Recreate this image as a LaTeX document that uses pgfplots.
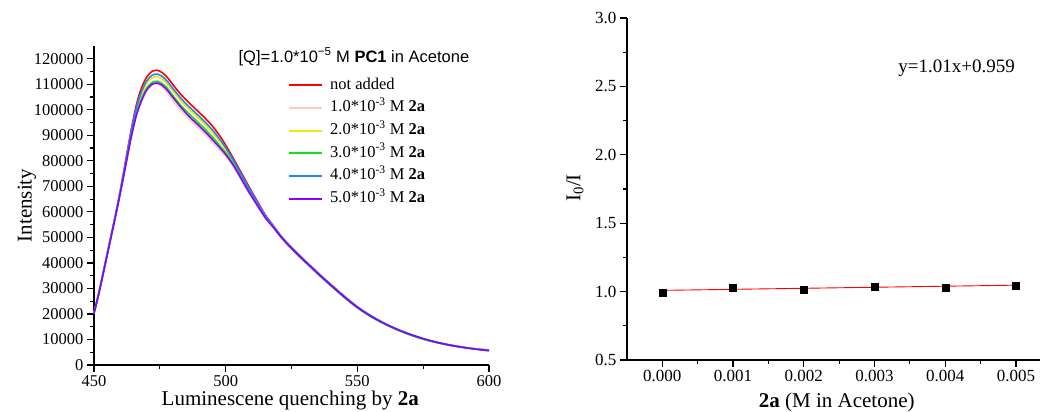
\documentclass[border=0pt]{standalone}
\usepackage{fontspec}
\setmainfont{Liberation Serif}
\newfontfamily\arial{Liberation Sans}
\usepackage{pgfplots}
\usepackage{pgfplotstable}
\pgfplotsset{compat=1.18}

\definecolor{cRed}{RGB}{255,0,0}
\definecolor{cPeach}{RGB}{252,205,185}
\definecolor{cYellow}{RGB}{245,230,0}
\definecolor{cGreen}{RGB}{20,225,20}
\definecolor{cBlue}{RGB}{20,140,255}
\definecolor{cPurple}{RGB}{140,0,255}

% wavelength, not added, 1.0, 2.0, 3.0, 4.0, 5.0 (x10^-3 M 2a)
\pgfplotstableread{
wl    r      p      y      g      b      v
450 20300 20300 20300 20300 20300 20300
452 29000 28900 29000 28900 29000 28700
455 43500 43200 43400 43300 43500 43000
458 58000 57600 57800 57700 58000 57400
460 68500 67400 68000 67600 68200 67400
462 80000 77800 79000 78280 79400 78000
464 91500 88300 90000 89000 90600 88600
466 101500 97100 99500 98060 100300 97500
468 108500 103000 106000 104200 107000 103500
470 112800 107300 110300 108500 111300 107800
472 115000 109500 112500 110700 113500 110000
474 115500 110000 113000 111200 114000 110500
476 114500 108800 112000 110200 113000 109500
478 112500 106500 110000 108200 111000 107500
480 109800 103500 107300 105500 108300 104800
483 106000 99700 103500 101700 104500 101000
486 102800 96500 100300 98500 101300 97500
489 99900 93600 97400 95600 98400 94600
492 96900 90600 94400 92600 95400 91600
495 93600 87300 91100 89300 92100 88300
498 89400 84000 87300 85700 88100 84900
500 86200 81800 84450 83200 85150 82500
503 80800 77650 79550 78650 80050 78150
506 75200 72400 74100 73300 74500 72800
509 69600 67100 68600 67900 69000 67500
512 64200 62300 63450 62900 63750 62600
515 58900 57600 58400 58000 58600 57800
518 54700 54000 54400 54100 54500 54100
521 50600 50100 50400 50100 50500 50200
524 47100 46700 46900 46600 47000 46800
527 44000 43600 43800 43500 43900 43700
530 41000 40600 40800 40500 40900 40700
533 38100 37700 37900 37600 38000 37800
536 35200 34800 35000 34700 35100 34900
540 31500 31100 31300 31000 31400 31200
545 27000 26700 26800 26500 26900 26700
550 22800 22600 22700 22400 22800 22600
555 19300 19100 19200 19000 19400 19200
560 16400 16300 16400 16200 16500 16400
565 13900 13900 13900 13800 14100 14000
570 11900 11900 11900 11800 12100 12000
575 10200 10200 10200 10100 10400 10300
580 8900 8900 8900 8800 9000 8900
585 7800 7800 7800 7700 7900 7800
590 7000 7000 7000 6900 7000 6900
595 6300 6300 6300 6200 6300 6200
600 5800 5800 5800 5600 5900 5600
}\spectra

\pgfplotsset{
  myaxis/.style={
    scale only axis,
    axis x line*=bottom, axis y line*=left,
    axis line style={line width=1.2bp, black, -},
    tick align=outside,
    major tick length=7bp, minor tick length=4bp,
    every tick/.style={line width=1.2bp, black},
    /pgf/number format/assume math mode=true,
    clip=false,
  }
}

\begin{document}
\begin{tikzpicture}
\useasboundingbox (0,0) rectangle (1041bp,412bp);

% left: emission spectra
\begin{axis}[myaxis,
  at={(94bp,47bp)}, anchor=south west,
  width=395bp, height=319bp,
  xmin=450, xmax=600, ymin=0, ymax=125000,
  xtick={450,500,550,600}, minor x tick num=1,
  ytick={0,10000,...,120000}, minor y tick num=1,
  scaled y ticks=false,
  yticklabel style={/pgf/number format/.cd, fixed, 1000 sep={}},
  tick label style={font=\fontsize{16.5bp}{19bp}\selectfont},
  xlabel={Luminescene quenching by \textbf{2a}},
  ylabel={Intensity},
  label style={font=\fontsize{21bp}{24bp}\selectfont},
  xlabel style={at={(axis description cs:0.497,-0.11)}, anchor=center},
  ylabel style={at={(axis description cs:-0.17,0.5)}, anchor=center},
  legend style={draw=none, fill=none, at={(axis description cs:0.491,0.903)},
    anchor=north west, inner sep=0pt, row sep=6.7bp,
    nodes={inner sep=0pt, text height=12bp, text depth=4bp,
      font=\fontsize{16.5bp}{19bp}\selectfont}},
  legend cell align=left,
  legend image code/.code={\draw[#1, line width=2bp] (0bp,0bp) -- (33bp,0bp) (40bp,0bp);},
  every axis plot/.append style={line width=1.6bp},
]
\addplot[cRed, smooth] table[x=wl, y=r] {\spectra};
\addplot[cPeach, smooth] table[x=wl, y=p] {\spectra};
\addplot[cYellow, smooth] table[x=wl, y=y] {\spectra};
\addplot[cGreen, smooth] table[x=wl, y=g] {\spectra};
\addplot[cBlue, smooth] table[x=wl, y=b] {\spectra};
\addplot[cPurple, smooth] table[x=wl, y=v] {\spectra};
\legend{not added,
  1.0*10\textsuperscript{-3} M \textbf{2a},
  2.0*10\textsuperscript{-3} M \textbf{2a},
  3.0*10\textsuperscript{-3} M \textbf{2a},
  4.0*10\textsuperscript{-3} M \textbf{2a},
  5.0*10\textsuperscript{-3} M \textbf{2a}}
\node[font=\arial\fontsize{16.5bp}{19bp}\selectfont, anchor=center]
  at (axis description cs:0.658,0.966)
  {[Q]=1.0*10\textsuperscript{−5} M \textbf{PC1} in Acetone};
\end{axis}

% right: Stern-Volmer plot
\begin{axis}[myaxis,
  at={(627bp,52bp)}, anchor=south west,
  width=413bp, height=342bp,
  xmin=-0.0005, xmax=0.00534, ymin=0.5, ymax=3.0,
  xtick={0,0.001,...,0.005}, minor x tick num=1,
  ytick={0.5,1.0,...,3.0}, minor y tick num=1,
  scaled x ticks=false,
  xticklabel style={/pgf/number format/.cd, fixed, fixed zerofill, precision=3},
  yticklabel style={/pgf/number format/.cd, fixed, fixed zerofill, precision=1},
  tick label style={font=\fontsize{17bp}{19bp}\selectfont},
  xlabel={\textbf{2a} (M in Acetone)},
  ylabel={I\textsubscript{0}/I},
  label style={font=\fontsize{21bp}{24bp}\selectfont},
  xlabel style={at={(axis description cs:0.508,-0.123)}, anchor=center},
  ylabel style={at={(axis description cs:-0.126,0.503)}, anchor=center},
]
\addplot[cRed, line width=0.9bp] coordinates {(0,1.009) (0.005,1.047)};
\addplot[only marks, mark=square*, mark size=3.5bp, black] coordinates {
  (0.000,0.995) (0.001,1.028) (0.002,1.017) (0.003,1.036) (0.004,1.031) (0.005,1.043)};
\node[font=\fontsize{19bp}{22bp}\selectfont, anchor=center]
  at (axis description cs:0.798,0.854) {y=1.01x+0.959};
\end{axis}
\end{tikzpicture}
\end{document}
